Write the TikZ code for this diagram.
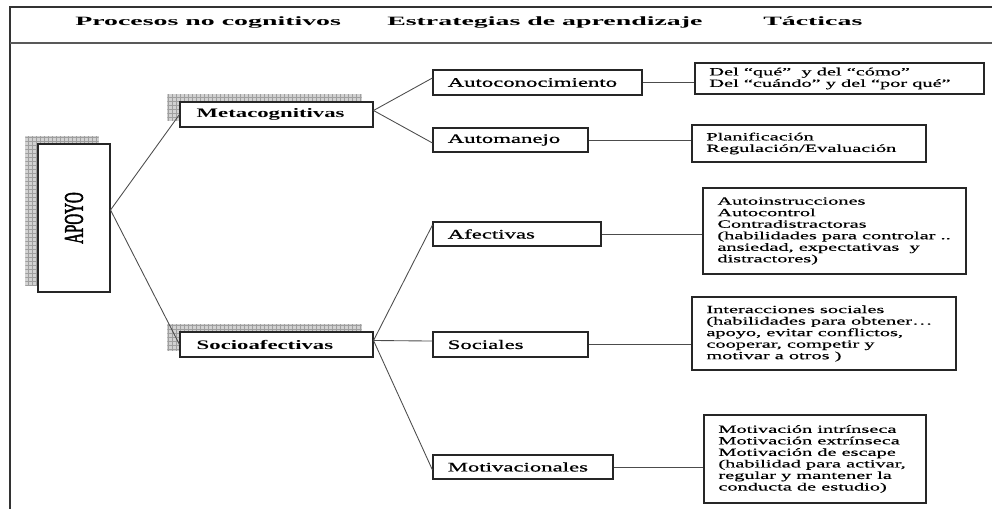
\documentclass[tikz,border=0pt]{standalone}
\usepackage{fontspec}
\usepackage{graphicx}
\usetikzlibrary{patterns,backgrounds}
\setmainfont{Liberation Serif}
\newfontfamily\hdrfont{Liberation Serif}[FakeStretch=2.2]
\newfontfamily\midfont{Liberation Serif}[FakeStretch=1.75, UprightFeatures={FakeBold=0.8}]
\newfontfamily\tacfont{Liberation Serif}[FakeStretch=1.85, UprightFeatures={FakeBold=0.4}]
\newfontfamily\apofont{Liberation Serif}[FakeStretch=0.55, UprightFeatures={FakeBold=1.5}]

\tikzset{
  framel/.style={draw=black!80, line width=1.1pt},
  headl/.style={draw=black!65, line width=0.9pt},
  hdr/.style={anchor=base west, inner sep=0pt, font=\hdrfont\fontsize{9.5pt}{11pt}\selectfont\bfseries},
  rect/.style={draw=black!85, line width=0.8pt, fill=white, inner sep=0pt},
  hatchshadow/.style={preaction={fill=gray!35}, pattern=grid, pattern color=gray!75},
  conn/.style={draw=black!70, line width=0.65pt},
  lvtwo/.style={label={[anchor=west, inner sep=0pt, xshift=12.75pt, font=\midfont\fontsize{9.75pt}{11pt}\selectfont\bfseries]west:{#1}}},
  lvthree/.style={label={[anchor=west, inner sep=0pt, xshift=11.25pt, font=\midfont\fontsize{9.75pt}{11pt}\selectfont]west:{#1}}},
  tac/.style={label={[anchor=west, inner sep=0pt, xshift=11pt, align=left, font=\tacfont\fontsize{8.25pt}{8.65pt}\selectfont]west:{#1}}},
}

\begin{document}
\begin{tikzpicture}[x=0.75pt, y=-0.75pt]
\useasboundingbox (0,0) rectangle (992,509);

% frame and header rule
\draw[framel] (10,509) -- (10,7) -- (992,7);
\draw[headl] (10,43) -- (992,43);

% column headers
\node[hdr] (h1) at (75,25.5) {Procesos no cognitivos};
\node[hdr] (h2) at (387,25.5) {Estrategias de aprendizaje};
\node[hdr] (h3) at (763,25.5) {Tácticas};

% level 1
\node[rect, minimum width=54pt, minimum height=111pt] (apoyo) at (74,218)
  {\rotatebox{90}{\apofont\fontsize{20.4pt}{22pt}\selectfont APOYO}};

% level 2
\node[rect, minimum width=144.75pt, minimum height=18.75pt, lvtwo={Metacognitivas}] (meta) at (276.5,114.5) {};
\node[rect, minimum width=144.75pt, minimum height=18.75pt, lvtwo={Socioafectivas}] (socio) at (276.5,344.5) {};

% level 3
\node[rect, minimum width=156.75pt, minimum height=18.75pt, lvthree={Autoconocimiento}] (auc) at (537.5,82.5) {};
\node[rect, minimum width=116.25pt, minimum height=18pt, lvthree={Automanejo}] (aum) at (510.5,140) {};
\node[rect, minimum width=126pt, minimum height=18pt, lvthree={Afectivas}] (afe) at (517,234) {};
\node[rect, minimum width=116.25pt, minimum height=18.75pt, lvthree={Sociales}] (soc) at (510.5,344.5) {};
\node[rect, minimum width=135pt, minimum height=18pt, lvthree={Motivacionales}] (mot) at (523,467) {};

% tactics
\node[rect, minimum width=216.75pt, minimum height=23.25pt,
  tac={Del “qué”\ \ y del “cómo”\\Del “cuándo” y del “por qué”}] (t1) at (839.5,78.5) {};
\node[rect, minimum width=175.5pt, minimum height=27.75pt,
  tac={Planificación\\Regulación/Evaluación}] (t2) at (809,143.5) {};
\node[rect, minimum width=197.25pt, minimum height=64.5pt,
  tac={Autoinstrucciones\\Autocontrol\\Contradistractoras\\(habilidades para controlar ..\\ansiedad, expectativas\ \ y\\distractores)}] (t3) at (834.5,231) {};
\node[rect, minimum width=198pt, minimum height=54.75pt,
  tac={Interacciones sociales\\(habilidades para obtener…\\apoyo, evitar conflictos,\\cooperar, competir y\\motivar a otros )}] (t4) at (824,333.5) {};
\node[rect, minimum width=166.5pt, minimum height=66pt,
  tac={Motivación intrínseca\\Motivación extrínseca\\Motivación de escape\\(habilidad para activar,\\regular y mantener la\\conducta de estudio)}] (t5) at (815,459) {};

% shadows
\begin{scope}[on background layer]
  \foreach \n in {apoyo,meta,socio}
    \path[hatchshadow] ([shift={(-12,-7)}]\n.south west) rectangle ([shift={(-12,-7)}]\n.north east);
\end{scope}

% connectors
\draw[conn] ([yshift=6pt]apoyo.east) -- (meta.west);
\draw[conn] ([yshift=6pt]apoyo.east) -- (socio.west);
\draw[conn] ([yshift=3pt]meta.east) -- ([yshift=3.4pt]auc.west);
\draw[conn] ([yshift=3pt]meta.east) -- ([yshift=-2.25pt]aum.west);
\draw[conn] ([yshift=3pt]socio.east) -- ([yshift=6.75pt]afe.west);
\draw[conn] ([yshift=3pt]socio.east) -- ([yshift=2.6pt]soc.west);
\draw[conn] ([yshift=3pt]socio.east) -- ([yshift=-2.25pt]mot.west);

\draw[conn] (auc.east) -- (auc.east -| t1.west);
\draw[conn] (aum.east) -- (aum.east -| t2.west);
\draw[conn] (afe.east) -- (afe.east -| t3.west);
\draw[conn] (soc.east) -- (soc.east -| t4.west);
\draw[conn] (mot.east) -- (mot.east -| t5.west);
\end{tikzpicture}
\end{document}
